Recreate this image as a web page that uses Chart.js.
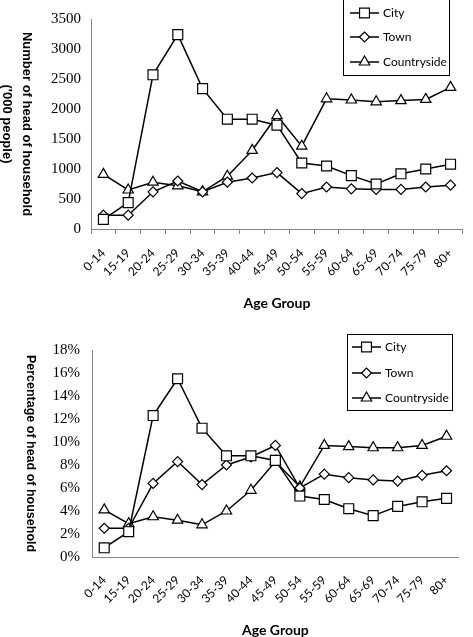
<!DOCTYPE html>
<html>
<head>
<meta charset="utf-8">
<script src="https://cdn.jsdelivr.net/npm/chart.js@4.4.1/dist/chart.umd.min.js"></script>
<style>
  body { margin: 0; background: #fff; }
  #wrap { position: relative; width: 473px; height: 637px; }
  canvas { position: absolute; left: 0; }
</style>
</head>
<body>
<div id="wrap">
  <canvas id="countChart" width="473" height="318" style="top:0"></canvas>
  <canvas id="pctChart" width="473" height="319" style="top:318px"></canvas>
</div>
<script>
// age groups on the x axis
const ageGroups = ['0-14', '15-19', '20-24', '25-29', '30-34', '35-39', '40-44', '45-49',
  '50-54', '55-59', '60-64', '65-69', '70-74', '75-79', '80+'];

// number of heads of household ('000 people)
const cityCount = [160, 440, 2570, 3240, 2340, 1830, 1830, 1730, 1100, 1050, 890, 750, 920, 1000, 1080];
const townCount = [230, 230, 620, 800, 620, 780, 850, 940, 590, 700, 670, 660, 660, 700, 730];
const countrysideCount = [910, 650, 780, 720, 620, 880, 1310, 1890, 1380, 2170, 2150, 2120, 2140, 2160, 2360];

// percentage of heads of household
const cityPct = [0.8, 2.2, 12.3, 15.5, 11.2, 8.8, 8.8, 8.4, 5.3, 5.0, 4.2, 3.6, 4.4, 4.8, 5.1];
const townPct = [2.5, 2.5, 6.4, 8.3, 6.3, 8.0, 8.7, 9.7, 6.0, 7.2, 6.9, 6.7, 6.6, 7.1, 7.5];
const countrysidePct = [4.1, 2.9, 3.5, 3.2, 2.8, 4.0, 5.8, 8.3, 6.1, 9.7, 9.6, 9.5, 9.5, 9.7, 10.5];

const seriesNames = ['City', 'Town', 'Countryside'];
const markerStyles = ['rect', 'rectRot', 'triangle'];
const markerSizes = [7, 5, 6];

const axisGray = '#868686';
const serifFamily = "'Liberation Serif', 'Times New Roman', 'DejaVu Serif', serif";

function makeDatasets(seriesValues) {
  return seriesValues.map((vals, i) => ({
    label: seriesNames[i],
    data: vals,
    borderColor: '#000',
    borderWidth: 1.5,
    backgroundColor: '#fff',
    pointStyle: markerStyles[i],
    pointRadius: markerSizes[i],
    pointBorderWidth: 1.2,
    pointBackgroundColor: '#fff',
    pointBorderColor: '#000',
    tension: 0,
    fill: false
  }));
}

// boxed legend with line + marker samples
const boxLegend = {
  id: 'boxLegend',
  afterDraw(chart) {
    const o = chart.options.plugins.boxLegend;
    if (!o) return;
    const ctx = chart.ctx;
    ctx.save();
    ctx.fillStyle = '#fff';
    ctx.fillRect(o.x, o.y, o.w, o.h);
    ctx.strokeStyle = '#000';
    ctx.lineWidth = 1;
    ctx.strokeRect(o.x + 0.5, o.y + 0.5, o.w, o.h);
    chart.data.datasets.forEach((ds, i) => {
      const y = o.rows[i];
      ctx.strokeStyle = '#000';
      ctx.lineWidth = 1.5;
      ctx.beginPath();
      ctx.moveTo(o.lineX0, y);
      ctx.lineTo(o.lineX1, y);
      ctx.stroke();
      ctx.fillStyle = '#fff';
      ctx.lineWidth = 1.2;
      Chart.helpers.drawPoint(ctx, {
        pointStyle: ds.pointStyle, radius: ds.pointRadius, rotation: 0, borderWidth: 1.2
      }, (o.lineX0 + o.lineX1) / 2, y);
      ctx.fillStyle = '#000';
      ctx.font = '12px Lato';
      ctx.textAlign = 'left';
      ctx.textBaseline = 'middle';
      ctx.fillText(ds.label, o.textX, y);
    });
    ctx.restore();
  }
};

// axis titles (y title reads top to bottom)
const axisText = {
  id: 'axisText',
  afterDraw(chart) {
    const o = chart.options.plugins.axisText;
    if (!o) return;
    const ctx = chart.ctx;
    const a = chart.chartArea;
    ctx.save();
    ctx.fillStyle = '#000';
    ctx.textAlign = 'center';
    ctx.textBaseline = 'middle';
    ctx.font = 'bold ' + o.ySize + "px 'Liberation Sans', Arial, sans-serif";
    o.yLines.forEach((line, i) => {
      ctx.save();
      ctx.translate(o.yX[i], (a.top + a.bottom) / 2);
      ctx.rotate(Math.PI / 2);
      ctx.fillText(line, 0, 0);
      ctx.restore();
    });
    ctx.font = 'bold 14px Lato';
    ctx.fillText(o.xTitle, (a.left + a.right) / 2, a.bottom + o.xGap);
    ctx.restore();
  }
};

function buildChart(id, seriesValues, yOpts, layout, legendOpts, titleOpts, xTicks) {
  return new Chart(document.getElementById(id), {
    type: 'line',
    data: { labels: ageGroups, datasets: makeDatasets(seriesValues) },
    plugins: [boxLegend, axisText],
    options: {
      responsive: false,
      animation: false,
      events: [],
      layout: { padding: { top: layout.top, right: layout.right, left: 0, bottom: 0 } },
      plugins: {
        legend: { display: false },
        tooltip: { enabled: false },
        boxLegend: legendOpts,
        axisText: titleOpts
      },
      scales: {
        x: {
          offset: true,
          afterFit: s => { s.height = layout.xHeight; },
          grid: {
            offset: true, drawOnChartArea: false, drawTicks: xTicks,
            tickLength: 5, color: axisGray
          },
          border: { display: true, color: axisGray, width: 1 },
          ticks: {
            autoSkip: false, minRotation: 45, maxRotation: 45,
            color: '#000', font: { family: 'Lato', size: 12 }, padding: layout.xPad
          }
        },
        y: Object.assign({
          afterFit: s => { s.width = layout.yWidth; },
          grid: { drawOnChartArea: false, drawTicks: false },
          border: { display: true, color: axisGray, width: 1 }
        }, yOpts)
      }
    }
  });
}

buildChart('countChart', [cityCount, townCount, countrysideCount], {
  min: 0, max: 3500,
  ticks: {
    stepSize: 500, color: '#000', padding: 10, font: { family: serifFamily, size: 15 },
    callback: v => String(v)
  }
}, { top: 16, right: 1, xHeight: 89, yWidth: 91, xPad: 12 }, {
  x: 343, y: -1, w: 106, h: 76, rows: [13, 37, 62], lineX0: 350, lineX1: 379, textX: 383
}, {
  ySize: 13, yLines: ['Number of head of household', "('000 people)"], yX: [27, 7],
  xTitle: 'Age Group', xGap: 74
}, true);

buildChart('pctChart', [cityPct, townPct, countrysidePct], {
  min: 0, max: 18,
  ticks: {
    stepSize: 2, color: '#000', padding: 12, font: { family: serifFamily, size: 15 },
    callback: v => v + '%'
  }
}, { top: 32, right: 3, xHeight: 80, yWidth: 92, xPad: 16 }, {
  x: 347, y: 16, w: 105, h: 76, rows: [29, 55, 80], lineX0: 352, lineX1: 381, textX: 385
}, {
  ySize: 12.5, yLines: ['Percentage of head of household'], yX: [30],
  xTitle: 'Age Group', xGap: 73
}, false);
</script>
</body>
</html>
